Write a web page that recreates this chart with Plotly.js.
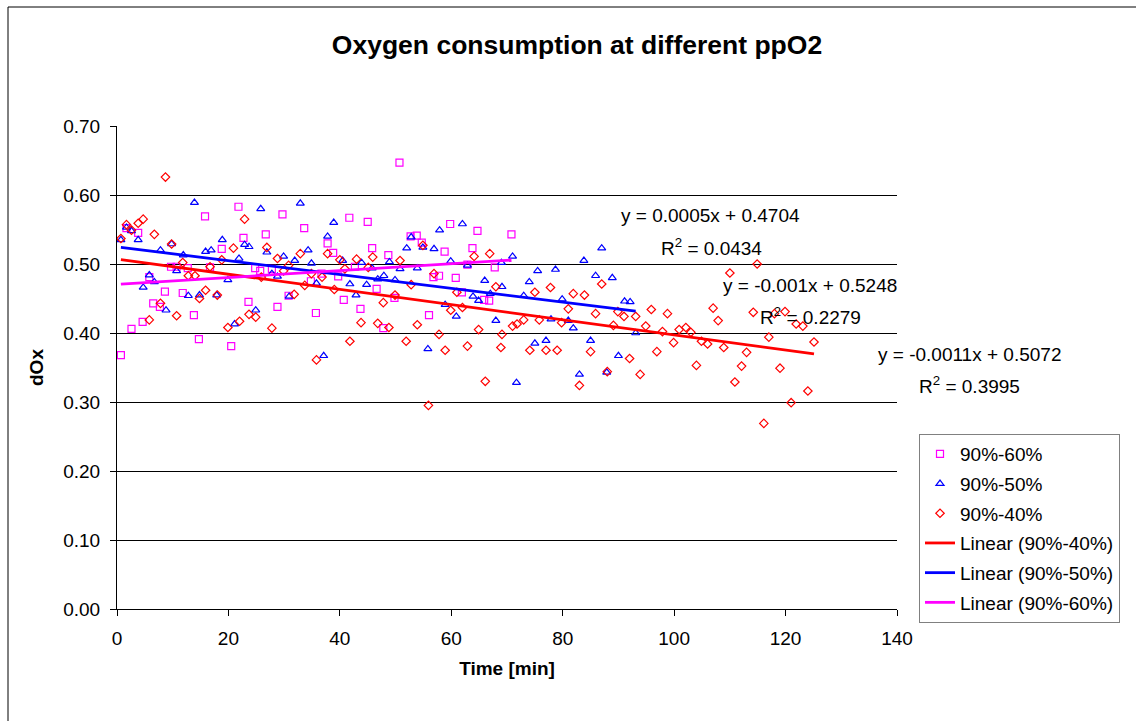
<!DOCTYPE html>
<html>
<head>
<meta charset="utf-8">
<script src="https://cdn.plot.ly/plotly-3.0.1.min.js"></script>
<style>html,body{margin:0;padding:0;background:#fff;}</style>
</head>
<body>
<div id="chart" style="width:1136px;height:721px;"></div>
<script>
// ---- data (time [min], dOx) ----
const seriesNames = ['90%-60%', '90%-50%', '90%-40%'];

const t60 = [0.7,1.7,2.6,3.8,4.6,5.8,6.5,7.7,8.6,9.7,10.7,11.8,12.7,13.8,14.7,15.8,16.7,18.8,20.5,
  21.8,22.7,23.6,24.8,25.7,26.7,27.8,28.8,29.7,30.8,33.6,34.8,35.7,36.7,37.8,38.8,39.7,40.7,
  41.7,42.7,43.7,45.0,45.8,46.6,47.8,48.7,49.8,50.7,52.7,53.8,54.7,56.0,56.8,57.8,58.8,59.8,60.8,
  61.9,62.9,63.8,64.7,65.9,66.8,67.8,70.8];
const v60 = [0.368,0.552,0.406,0.545,0.416,0.481,0.443,0.438,0.460,0.496,0.496,0.458,0.494,0.426,0.391,0.569,0.495,0.522,0.381,
  0.583,0.538,0.445,0.494,0.490,0.543,0.493,0.438,0.572,0.454,0.552,0.475,0.429,0.486,0.530,0.516,0.482,0.448,
  0.567,0.496,0.435,0.561,0.523,0.464,0.407,0.513,0.451,0.647,0.540,0.541,0.531,0.426,0.481,0.483,0.518,0.558,0.480,
  0.459,0.499,0.523,0.548,0.448,0.447,0.495,0.543];

const t50 = [0.7,1.7,2.6,3.8,4.7,5.8,6.7,7.8,8.8,9.8,10.7,11.9,12.8,13.9,14.8,15.9,16.9,17.9,18.9,19.9,
  21.1,21.9,22.9,23.7,24.9,25.8,26.9,27.8,28.8,29.9,30.9,31.9,32.9,34.3,34.9,35.8,37.1,37.8,38.9,40.5,
  41.8,42.9,43.9,44.8,45.8,46.8,47.9,48.9,49.9,50.8,52.0,52.8,53.9,54.9,55.8,56.9,57.9,58.9,59.9,60.9,
  62.0,62.9,63.9,64.9,66.0,67.0,68.0,69.0,69.1,71.0,71.7,73.0,74.0,75.0,75.5,77.0,77.9,78.7,79.9,81.0,81.9,
  83.0,83.8,85.0,85.9,87.0,87.9,88.9,90.0,91.1,92.1,93.1];
const v50 = [0.535,0.553,0.548,0.535,0.466,0.484,0.474,0.520,0.433,0.529,0.490,0.513,0.454,0.589,0.455,0.518,0.520,0.455,0.535,0.477,
  0.413,0.508,0.528,0.525,0.433,0.580,0.517,0.486,0.482,0.511,0.453,0.505,0.588,0.520,0.501,0.472,0.367,0.540,0.560,0.505,
  0.471,0.455,0.502,0.470,0.494,0.478,0.483,0.503,0.477,0.493,0.523,0.539,0.494,0.524,0.377,0.522,0.549,0.441,0.504,0.424,
  0.558,0.498,0.453,0.447,0.476,0.457,0.418,0.502,0.467,0.511,0.328,0.454,0.474,0.385,0.490,0.389,0.420,0.492,0.449,0.418,0.407,
  0.340,0.505,0.389,0.483,0.523,0.343,0.480,0.367,0.446,0.445,0.400];

const t40 = [0.7,1.7,2.6,3.8,4.7,5.8,6.7,7.8,8.7,9.8,10.7,11.8,12.8,14.0,14.8,15.9,16.7,18.0,18.8,19.9,
  20.9,22.0,22.9,23.7,24.9,25.9,26.9,27.8,28.8,29.9,30.8,31.8,32.9,33.7,34.9,35.8,36.8,37.8,39.0,40.0,
  40.9,41.8,43.0,43.8,45.1,45.9,46.8,47.8,48.8,49.9,50.8,51.9,52.8,53.9,54.9,55.9,56.9,57.8,58.9,59.9,61.0,
  62.0,62.9,64.1,64.9,66.1,66.9,68.0,68.9,69.1,71.0,71.8,73.0,74.1,75.0,75.8,77.0,77.8,79.0,79.8,81.0,81.9,
  83.0,83.9,85.0,85.9,87.0,88.0,89.1,89.9,91.0,92.0,93.1,93.9,94.9,95.9,96.9,97.9,98.8,99.9,100.9,102.1,
  103.0,104.0,104.9,106.0,107.0,107.9,108.9,110.0,110.9,112.1,113.0,114.2,114.9,116.1,117.0,118.0,119.0,119.9,121.0,121.9,123.1,124.0,125.1];
const v40 = [0.537,0.557,0.549,0.559,0.565,0.419,0.543,0.443,0.626,0.529,0.425,0.502,0.483,0.483,0.450,0.462,0.496,0.455,0.506,0.408,
  0.523,0.417,0.565,0.427,0.423,0.481,0.524,0.407,0.508,0.490,0.498,0.456,0.515,0.469,0.486,0.361,0.481,0.515,0.463,0.506,
  0.493,0.388,0.507,0.415,0.495,0.510,0.414,0.444,0.408,0.455,0.505,0.388,0.470,0.412,0.527,0.295,0.486,0.398,0.375,0.433,0.459,
  0.437,0.381,0.511,0.405,0.330,0.515,0.467,0.379,0.398,0.410,0.413,0.419,0.375,0.459,0.419,0.375,0.466,0.375,0.415,0.435,0.457,
  0.324,0.455,0.373,0.428,0.471,0.344,0.411,0.431,0.424,0.363,0.424,0.340,0.410,0.434,0.373,0.402,0.428,0.386,0.405,0.408,
  0.401,0.353,0.388,0.384,0.436,0.418,0.379,0.487,0.329,0.352,0.372,0.430,0.500,0.269,0.394,0.428,0.349,0.431,0.299,0.413,0.410,0.316,0.387];

// Linear trendline coefficients (as displayed) for 60%, 50%, 40%
const trendSlope = [0.0005, -0.001, -0.0011];
const trendIntercept = [0.4704, 0.5248, 0.5072];
const trendR2 = ['0.0434', '0.2279', '0.3995'];
const trendEqText = ['y = 0.0005x + 0.4704', 'y = -0.001x + 0.5248', 'y = -0.0011x + 0.5072'];

const xTicks = [0, 20, 40, 60, 80, 100, 120, 140];
const yTicks = [0, 0.1, 0.2, 0.3, 0.4, 0.5, 0.6, 0.7];

// ---- build ----
const FONT = 'Liberation Sans, Arial, sans-serif';
const colors = ['#FF00FF', '#0000FF', '#FF0000'];
const symbols = ['square-open', 'triangle-up-open', 'diamond-open'];
const sizes = [7, 7, 6.5];
const xs = [t60, t50, t40];
const ys = [v60, v50, v40];

const traces = [];
for (let i = 0; i < 3; i++) {
  traces.push({
    type: 'scatter', mode: 'markers', name: seriesNames[i],
    x: xs[i], y: ys[i], legendgroup: 'g' + i,
    marker: {symbol: symbols[i], size: sizes[i], color: colors[i], line: {width: 1.2, color: colors[i]}},
    hoverinfo: 'x+y'
  });
}
function trendTrace(i, order) {
  const xmin = Math.min.apply(null, xs[i]);
  const xmax = Math.max.apply(null, xs[i]);
  return {
    type: 'scatter', mode: 'lines', name: 'Linear (' + seriesNames[i] + ')',
    x: [xmin, xmax],
    y: [trendSlope[i] * xmin + trendIntercept[i], trendSlope[i] * xmax + trendIntercept[i]],
    line: {color: colors[i], width: 2.8}, legendgroup: 'l' + order
  };
}
traces.push(trendTrace(2, 3), trendTrace(1, 4), trendTrace(0, 5));

// plot area pixel geometry
const L = 117, R = 897, T = 126, B = 609, W = 1136, H = 721;
const px = X => (X - L) / (R - L);
const py = Y => (B - Y) / (B - T);

// equation label centres (pixels)
const eqPos = [[710, 215, 711, 247], [810, 285, 810, 316], [970, 354, 970, 385]];
const annotations = [];
for (let i = 0; i < 3; i++) {
  annotations.push({xref: 'paper', yref: 'paper', x: px(eqPos[i][0]), y: py(eqPos[i][1]),
    xanchor: 'center', yanchor: 'middle', showarrow: false, text: trendEqText[i],
    font: {family: FONT, size: 19, color: '#000'}});
  annotations.push({xref: 'paper', yref: 'paper', x: px(eqPos[i][2]), y: py(eqPos[i][3]),
    xanchor: 'center', yanchor: 'middle', showarrow: false, text: 'R<sup>2</sup> = ' + trendR2[i],
    font: {family: FONT, size: 19, color: '#000'}});
}

const layout = {
  width: W, height: H, autosize: false,
  margin: {l: L, r: W - R, t: T, b: H - B, pad: 0},
  paper_bgcolor: '#fff', plot_bgcolor: '#fff',
  font: {family: FONT, size: 19, color: '#000'},
  title: {text: '<b>Oxygen consumption at different ppO2</b>', font: {family: FONT, size: 26.5, color: '#000'},
    xref: 'container', yref: 'container', x: 577 / W, y: 1 - 45 / H, xanchor: 'center', yanchor: 'middle'},
  xaxis: {range: [0, 140], tickvals: xTicks, ticks: 'outside', ticklen: 6, tickcolor: '#000', tickwidth: 1,
    showline: true, linecolor: '#000', linewidth: 1, showgrid: false, zeroline: false,
    ticklabelstandoff: 6,
    tickfont: {family: FONT, size: 19, color: '#000'},
    title: {text: '<b>Time [min]</b>', font: {family: FONT, size: 19, color: '#000'}, standoff: 13}},
  yaxis: {range: [0, 0.7], tickvals: yTicks, tickformat: '.2f', ticks: 'outside', ticklen: 6, tickcolor: '#000', tickwidth: 1,
    showline: true, linecolor: '#000', linewidth: 1, showgrid: true, gridcolor: '#000', gridwidth: 1, zeroline: false,
    ticklabelstandoff: 6,
    tickfont: {family: FONT, size: 19, color: '#000'},
    title: {text: '<b>dOx</b>', font: {family: FONT, size: 19, color: '#000'}, standoff: 14}},
  legend: {x: px(919), y: py(434), xanchor: 'left', yanchor: 'top', bgcolor: '#fff',
    bordercolor: '#808080', borderwidth: 1, font: {family: FONT, size: 19, color: '#000'},
    tracegroupgap: 2, traceorder: 'grouped'},
  showlegend: true,
  annotations: annotations,
  shapes: [{type: 'rect', xref: 'paper', yref: 'paper', x0: px(8), x1: px(1150), y0: py(740), y1: py(7),
    line: {color: '#000', width: 1}, fillcolor: 'rgba(0,0,0,0)', layer: 'below'}]
};

Plotly.newPlot('chart', traces, layout, {displayModeBar: false, staticPlot: true});
</script>
</body>
</html>
